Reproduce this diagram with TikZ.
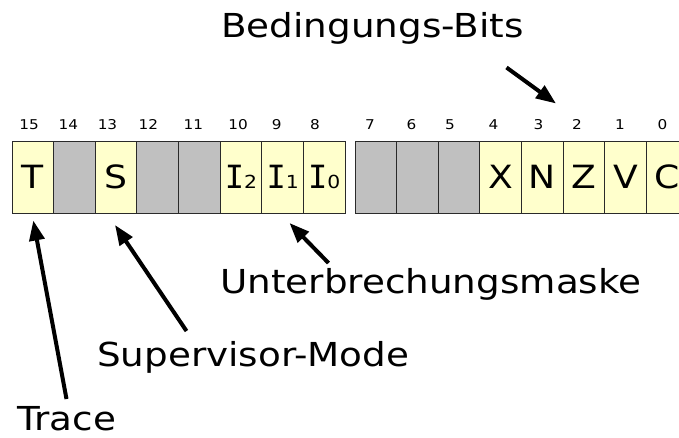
\documentclass[tikz,border=0pt]{standalone}
\usepackage{fontspec}
\setmainfont{DejaVu Sans}[FakeStretch=1.13]
\newfontfamily\seriffam{DejaVu Sans Mono}
\usetikzlibrary{arrows.meta}
\definecolor{cellyellow}{HTML}{FFFFCC}
\definecolor{cellgray}{HTML}{C0C0C0}
\definecolor{cellline}{HTML}{2A2A2A}
\tikzset{
  cell/.style={draw=cellline, line width=0.9pt, minimum width=41.625pt, minimum height=72pt, inner sep=0pt, font=\fontsize{32}{36}\selectfont},
  used/.style={cell, fill=cellyellow},
  unused/.style={cell, fill=cellgray},
  bitnum/.style={font=\fontsize{13.5}{15}\selectfont, anchor=base, inner sep=0pt},
  lbl/.style={font=\fontsize{33}{36}\selectfont, anchor=base west, inner sep=0pt},
  arr/.style={line width=4pt, -{Triangle[length=20pt,width=15pt]}},
}
\newcommand{\Isub}[1]{{\seriffam I}{\fontsize{18}{18}\selectfont #1}}
\begin{document}
\begin{tikzpicture}[x=1pt,y=-1pt]
\useasboundingbox (0,0) rectangle (679,437);
\clip (0,0) rectangle (679,437);
% bits 15..8
\node[used]   (c15) at (32.8,177) {T};
\node[unused] (c14) at (74.4,177) {};
\node[used]   (c13) at (116.1,177) {S};
\node[unused] (c12) at (157.7,177) {};
\node[unused] (c11) at (199.3,177) {};
\node[used]   (c10) at (240.9,177) {\Isub{2}};
\node[used]   (c9)  at (282.6,177) {\Isub{1}};
\node[used]   (c8)  at (324.2,177) {\Isub{0}};
% bits 7..0
\node[unused] (c7) at (375.8,177) {};
\node[unused] (c6) at (417.4,177) {};
\node[unused] (c5) at (459.0,177) {};
\node[used]   (c4) at (500.6,177) {X};
\node[used]   (c3) at (542.2,177) {N};
\node[used]   (c2) at (583.8,177) {Z};
\node[used]   (c1) at (625.4,177) {V};
\node[used]   (c0) at (667.0,177) {C};
% bit numbers
\node[bitnum] (n15) at (29.2,129) {15};
\node[bitnum] (n14) at (68.3,129) {14};
\node[bitnum] (n13) at (107.5,129) {13};
\node[bitnum] (n12) at (148.3,129) {12};
\node[bitnum] (n11) at (193.3,129) {11};
\node[bitnum] (n10) at (238,129) {10};
\node[bitnum] (n9)  at (276.7,129) {9};
\node[bitnum] (n8)  at (315,129) {8};
\node[bitnum] (n7)  at (370,129) {7};
\node[bitnum] (n6)  at (411.5,129) {6};
\node[bitnum] (n5)  at (450,129) {5};
\node[bitnum] (n4)  at (493.5,129) {4};
\node[bitnum] (n3)  at (538.5,129) {3};
\node[bitnum] (n2)  at (577,129) {2};
\node[bitnum] (n1)  at (620,129) {1};
\node[bitnum] (n0)  at (662.5,129) {0};
% labels
\node[lbl] (lbits)  at (221,37.3) {Bedingungs-Bits};
\node[lbl] (lmask)  at (220,293.3) {Unterbrechungsmaske};
\node[lbl] (lsuper) at (97,366.7) {Supervisor-Mode};
\node[lbl] (ltrace) at (17,430.5) {Trace};
% arrow end points
\coordinate (aT1) at (66.5,399);
\coordinate (aT2) at (33.3,220.5);
\coordinate (aS1) at (186.5,331);
\coordinate (aS2) at (115,225);
\coordinate (aI1) at (328.5,263);
\coordinate (aI2) at (289.5,223);
\coordinate (aB1) at (506.5,67.5);
\coordinate (aB2) at (556,103.5);
\draw[arr] (aT1) -- (aT2);
\draw[arr] (aS1) -- (aS2);
\draw[arr] (aI1) -- (aI2);
\draw[arr] (aB1) -- (aB2);
\end{tikzpicture}
\end{document}
